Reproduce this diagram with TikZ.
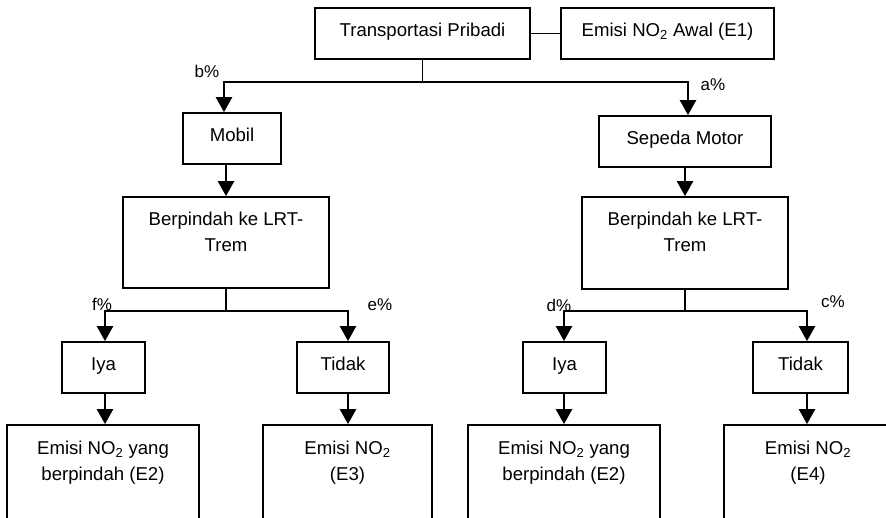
\documentclass[tikz,border=0pt]{standalone}
\usepackage{fontspec}
\setmainfont{Liberation Sans}
\usetikzlibrary{arrows.meta}

\begin{document}
\begin{tikzpicture}[x=1pt,y=-1pt,
  box/.style={draw, line width=1.7pt, inner sep=0pt},
  txt/.style={anchor=north, inner sep=0pt, align=center,
              font=\fontsize{18.6}{26}\selectfont},
  pct/.style={inner sep=0pt, font=\fontsize{17}{20}\selectfont},
  ln/.style={line width=1.9pt},
  arr/.style={line width=2.4pt, -{Triangle[width=16pt,length=15pt]}}
]
\useasboundingbox (0,0) rectangle (886,518);
\clip (0,0) rectangle (886,518);

% boxes
\node[box, minimum width=215pt, minimum height=51pt] (tp)     at (422.5,33.5) {};
\node[box, minimum width=213pt, minimum height=51pt] (e1)     at (667.5,33.5) {};
\node[box, minimum width=98pt,  minimum height=51pt] (mobil)  at (232,138.5)  {};
\node[box, minimum width=172pt, minimum height=51pt] (sepeda) at (685,141.5)  {};
\node[box, minimum width=206pt, minimum height=91pt] (bL)     at (226,242.5)  {};
\node[box, minimum width=206pt, minimum height=92pt] (bR)     at (685,243)    {};
\node[box, minimum width=83pt,  minimum height=51pt] (iyaL)   at (103.5,367.5) {};
\node[box, minimum width=92pt,  minimum height=51pt] (tidakL) at (343,367.5)  {};
\node[box, minimum width=83pt,  minimum height=51pt] (iyaR)   at (564.5,367.5) {};
\node[box, minimum width=95pt,  minimum height=51pt] (tidakR) at (800.5,367.5) {};
\node[box, minimum width=192pt, minimum height=120pt] (e2L)   at (103,485)    {};
\node[box, minimum width=169pt, minimum height=120pt] (e3)    at (347.5,485)  {};
\node[box, minimum width=192pt, minimum height=120pt] (e2R)   at (564,485)    {};
\node[box, minimum width=168pt, minimum height=120pt] (e4)    at (808,485)    {};

% box texts, set from the top edge of each box
\node[txt] (ttp)     at ([yshift=-15.5pt]tp.north)     {Transportasi Pribadi};
\node[txt] (te1)     at ([yshift=-15.5pt]e1.north)     {Emisi NO\textsubscript{2} Awal (E1)};
\node[txt] (tmobil)  at ([yshift=-15.5pt]mobil.north)  {Mobil};
\node[txt] (tsepeda) at ([yshift=-15.5pt]sepeda.north) {Sepeda Motor};
\node[txt] (tbL)     at ([yshift=-16pt]bL.north)       {Berpindah ke LRT-\\Trem};
\node[txt] (tbR)     at ([yshift=-16pt]bR.north)       {Berpindah ke LRT-\\Trem};
\node[txt] (tiyaL)   at ([yshift=-16pt]iyaL.north)     {Iya};
\node[txt] (ttidakL) at ([yshift=-16pt]tidakL.north)   {Tidak};
\node[txt] (tiyaR)   at ([yshift=-16pt]iyaR.north)     {Iya};
\node[txt] (ttidakR) at ([yshift=-16pt]tidakR.north)   {Tidak};
\node[txt] (te2L)    at ([yshift=-17pt]e2L.north)      {Emisi NO\textsubscript{2} yang\\berpindah (E2)};
\node[txt] (te3)     at ([yshift=-17pt]e3.north)       {Emisi NO\textsubscript{2}\\(E3)};
\node[txt] (te2R)    at ([yshift=-17pt]e2R.north)      {Emisi NO\textsubscript{2} yang\\berpindah (E2)};
\node[txt] (te4)     at ([yshift=-17pt]e4.north)       {Emisi NO\textsubscript{2}\\(E4)};

% top level
\draw[ln] (tp.east) -- (tp.east -| e1.west);
\coordinate (j0) at (422.5,82);
\draw[ln] (tp.south) -- (j0);
\draw[arr] (j0) -| ([xshift=-8pt]mobil.north);
\draw[arr] (j0) -| ([xshift=3pt]sepeda.north);
\draw[arr] (bL.north |- mobil.south) -- (bL.north);
\draw[arr] (sepeda.south) -- (sepeda.south |- bR.north);

% left branch
\coordinate (jL) at (226,311);
\draw[ln] (bL.south) -- (jL);
\draw[arr] (jL) -| ([xshift=1.5pt]iyaL.north);
\draw[arr] (jL) -| ([xshift=5pt]tidakL.north);
\draw[arr] ([xshift=1.5pt]iyaL.south) -- ([xshift=1.5pt]iyaL.south |- e2L.north);
\draw[arr] ([xshift=5pt]tidakL.south) -- ([xshift=5pt]tidakL.south |- e3.north);

% right branch
\coordinate (jR) at (685,311);
\draw[ln] (bR.south) -- (jR);
\draw[arr] (jR) -| ([xshift=-0.5pt]iyaR.north);
\draw[arr] (jR) -| ([xshift=6.5pt]tidakR.north);
\draw[arr] ([xshift=-0.5pt]iyaR.south) -- ([xshift=-0.5pt]iyaR.south |- e2R.north);
\draw[arr] ([xshift=6.5pt]tidakR.south) -- ([xshift=6.5pt]tidakR.south |- e4.north);

% share labels
\node[pct] (lb) at (207,71)  {b\%};
\node[pct] (la) at (713,85)  {a\%};
\node[pct] (lf) at (102,304) {f\%};
\node[pct] (le) at (380,305) {e\%};
\node[pct] (ld) at (559,305) {d\%};
\node[pct] (lc) at (833,302) {c\%};
\end{tikzpicture}
\end{document}
